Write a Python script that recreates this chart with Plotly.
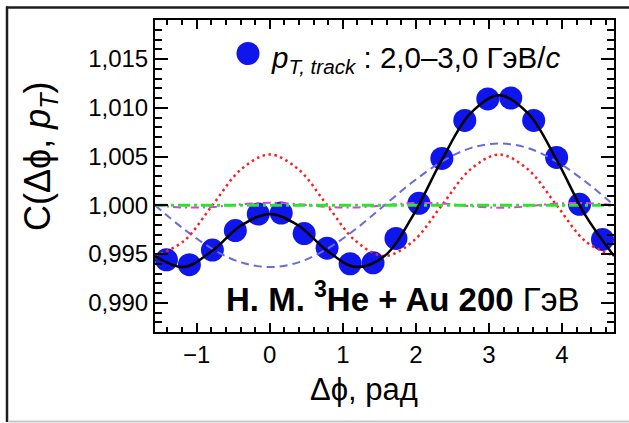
import plotly.graph_objects as go

# ---- data ----
point_x = [-1.414, -1.100, -0.785, -0.471, -0.157, 0.157, 0.471, 0.785, 1.100, 1.414,
           1.728, 2.042, 2.356, 2.670, 2.985, 3.299, 3.613, 3.927, 4.241, 4.555]
point_y = [0.9944, 0.9939, 0.9954, 0.9974, 0.9991, 0.9992, 0.9971, 0.9956, 0.9940, 0.9941,
           0.9966, 1.0002, 1.0048, 1.0087, 1.0109, 1.0110, 1.0087, 1.0049, 1.0001, 0.9965]

curve_x = [-1.5708, -1.1781, -0.7854, -0.3927, 0.0, 0.3927, 0.7854, 1.1781, 1.5708,
           1.9635, 2.3562, 2.7489, 3.1416, 3.5343, 3.9270, 4.3197, 4.7124]
fit_total = [0.9948, 0.99367, 0.99534, 0.99792, 0.99911, 0.99792, 0.99534, 0.99367, 0.9948,
             0.99898, 1.00466, 1.00944, 1.01129, 1.00944, 1.00466, 0.99898, 0.9948]
fit_c1 = [1.0000, 0.99757, 0.99552, 0.99414, 0.99366, 0.99414, 0.99552, 0.99757, 1.0000,
          1.00243, 1.00448, 1.00586, 1.00634, 1.00586, 1.00448, 1.00243, 1.0000]
fit_c2 = [0.9948, 0.99632, 1.0000, 1.00368, 1.0052, 1.00368, 1.0000, 0.99632, 0.9948,
          0.99632, 1.0000, 1.00368, 1.0052, 1.00368, 1.0000, 0.99632, 0.9948]
fit_c3 = [1.0000, 0.99977, 0.99982, 1.0001, 1.00025, 1.0001, 0.99982, 0.99977, 1.0000,
          1.00023, 1.00018, 0.9999, 0.99975, 0.9999, 1.00018, 1.00023, 1.0000]
fit_c4 = [1.0000] * 17

x_tickvals = [-1, 0, 1, 2, 3, 4]
x_ticktext = ["\u22121", "0", "1", "2", "3", "4"]
y_tickvals = [0.990, 0.995, 1.000, 1.005, 1.010, 1.015]
y_ticktext = ["0,990", "0,995", "1,000", "1,005", "1,010", "1,015"]

FONT = "Arial"

fig = go.Figure()
fig.add_trace(go.Scatter(x=point_x, y=point_y, mode="markers",
                         marker=dict(size=23, color="rgb(14,22,235)"), showlegend=False))
fig.add_trace(go.Scatter(x=curve_x, y=fit_c1, mode="lines", line_shape="spline",
                         line=dict(color="rgb(105,105,225)", width=2, dash="8px,5px"), showlegend=False))
fig.add_trace(go.Scatter(x=curve_x, y=fit_c2, mode="lines", line_shape="spline",
                         line=dict(color="rgb(255,30,30)", width=2.5, dash="2.5px,3.5px"), showlegend=False))
fig.add_trace(go.Scatter(x=curve_x, y=fit_c3, mode="lines", line_shape="spline",
                         line=dict(color="rgb(225,60,225)", width=2, dash="8px,4px,2px,4px"), showlegend=False))
fig.add_trace(go.Scatter(x=curve_x, y=fit_c4, mode="lines",
                         line=dict(color="rgb(40,230,40)", width=3, dash="12px,4px,3px,4px"), showlegend=False))
fig.add_trace(go.Scatter(x=curve_x, y=fit_total, mode="lines", line_shape="spline",
                         line=dict(color="black", width=2.5), showlegend=False))

W, H = 459, 312
L, T = 155, 20


def px(xp):
    return (xp - L) / W


def py(yp):
    return (T + H - yp) / H


axis_common = dict(showgrid=False, zeroline=False, showline=True, linecolor="black",
                   linewidth=2, mirror="allticks", ticks="inside", tickcolor="black",
                   automargin=False)

fig.update_xaxes(range=[-1.5708, 4.7124], tickmode="array", tickvals=x_tickvals,
                 ticktext=x_ticktext, ticklen=9, tickwidth=2,
                 tickfont=dict(family=FONT, size=24, color="black"),
                 minor=dict(dtick=0.2, tick0=0, ticks="inside", ticklen=5, tickwidth=1.5,
                            tickcolor="black", showgrid=False),
                 **axis_common)
fig.update_yaxes(range=[0.987, 1.019], tickmode="array", tickvals=y_tickvals,
                 ticktext=y_ticktext, ticklen=13, tickwidth=2,
                 tickfont=dict(family=FONT, size=24, color="black"),
                 minor=dict(dtick=0.001, tick0=0.99, ticks="inside", ticklen=7, tickwidth=1.5,
                            tickcolor="black", showgrid=False),
                 **axis_common)

annotations = [
    dict(text="C(\u0394\u03d5, <i>p</i><sub><i>T</i></sub>)", textangle=-90,
         x=px(40), y=py(156), xanchor="center", yanchor="middle",
         font=dict(family=FONT, size=36, color="black")),
    dict(text="\u0394\u03d5, рад", x=px(364), y=py(389), xanchor="center", yanchor="middle",
         font=dict(family=FONT, size=31, color="black")),
    dict(text="<i>p</i><sub><i>T, track</i></sub> : 2,0\u20133,0 ГэВ/<i>c</i>",
         x=px(269), y=py(59), xanchor="left", yanchor="middle",
         font=dict(family=FONT, size=29.5, color="black")),
    dict(text="<b>H. M. <sup>3</sup>He + Au 200</b> ГэВ",
         x=px(224), y=py(297), xanchor="left", yanchor="middle",
         font=dict(family=FONT, size=33, color="black")),
]
for a in annotations:
    a.update(xref="paper", yref="paper", showarrow=False)

shapes = [
    # legend symbol
    dict(type="circle", xref="paper", yref="paper", xsizemode="pixel", ysizemode="pixel",
         xanchor=px(248), yanchor=py(53.5), x0=-11.5, x1=11.5, y0=-11.5, y1=11.5,
         fillcolor="rgb(14,22,235)", line=dict(width=0)),
    # outer frame
    dict(type="line", xref="paper", yref="paper", x0=px(6), x1=px(629), y0=py(7.5), y1=py(7.5),
         line=dict(color="rgb(30,30,30)", width=2.5)),
    dict(type="line", xref="paper", yref="paper", x0=px(7), x1=px(7), y0=py(6.5), y1=py(422),
         line=dict(color="rgb(30,30,30)", width=2.5)),
    dict(type="line", xref="paper", yref="paper", x0=px(8), x1=px(629), y0=py(421.5), y1=py(421.5),
         line=dict(color="rgb(200,200,200)", width=2)),
]

fig.update_layout(width=629, height=423, margin=dict(l=L, r=629 - L - W, t=T, b=423 - T - H),
                  paper_bgcolor="white", plot_bgcolor="white",
                  font=dict(family=FONT, color="black"),
                  annotations=annotations, shapes=shapes, showlegend=False)

fig.write_html("out.html", config={"displayModeBar": False},
               post_script="document.body.style.margin='0';document.body.style.overflow='hidden';")
